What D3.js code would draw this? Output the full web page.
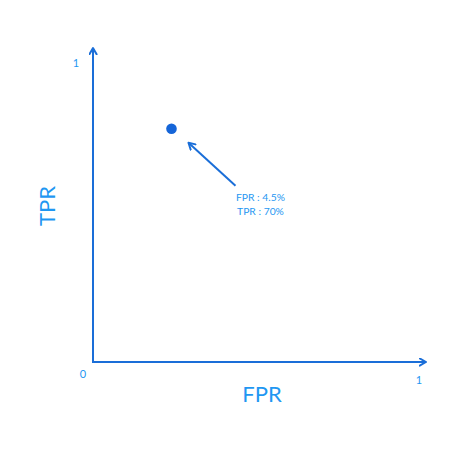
<!DOCTYPE html>
<html><head><meta charset="utf-8">
<script src="https://cdn.jsdelivr.net/npm/d3@7"></script>
<style>body{margin:0;background:#fff;}</style>
</head><body>
<svg id="c" width="462" height="460"></svg>
<script>
const axisTitles = ["FPR", "TPR"];
const tickLabels = ["0", "1"];
const pointFPR = [0.24];   // schematic position of the point on the x axis
const pointTPR = [0.78];   // schematic position of the point on the y axis
const annotationLines = ["FPR : 4.5%", "TPR : 70%"];

const svg = d3.select("#c");
const x = d3.scaleLinear().domain([0, 1]).range([93, 420]);
const y = d3.scaleLinear().domain([0, 1]).range([362, 63]);
const lineColor = "#1a6ed8", textColor = "#1f97f2";

const defs = svg.append("defs");
defs.append("marker").attr("id", "ah").attr("viewBox", "0 0 10 10")
  .attr("refX", 8).attr("refY", 5).attr("markerWidth", 4.5).attr("markerHeight", 4.5)
  .attr("orient", "auto-start-reverse")
  .append("path").attr("d", "M1,1 L8,5 L1,9").attr("fill", "none")
  .attr("stroke", lineColor).attr("stroke-width", 2.2).attr("stroke-linecap", "round").attr("stroke-linejoin", "round");

// axes
svg.append("line").attr("x1", x(0)).attr("y1", y(0)).attr("x2", x(0)).attr("y2", y(1) - 15)
  .attr("stroke", lineColor).attr("stroke-width", 2).attr("marker-end", "url(#ah)");
svg.append("line").attr("x1", x(0) - 1).attr("y1", y(0)).attr("x2", x(1) + 6).attr("y2", y(0))
  .attr("stroke", lineColor).attr("stroke-width", 2).attr("marker-end", "url(#ah)");

const font = "Lato, 'Noto Sans', sans-serif";
// tick labels
svg.append("text").attr("x", x(0) - 10).attr("y", y(0) + 16).text(tickLabels[0])
  .attr("font-family", font).attr("font-size", 11).attr("fill", textColor).attr("text-anchor", "middle");
svg.append("text").attr("x", x(0) - 17).attr("y", y(1) + 4).text(tickLabels[1])
  .attr("font-family", font).attr("font-size", 11).attr("fill", textColor).attr("text-anchor", "middle");
svg.append("text").attr("x", x(1) - 1).attr("y", y(0) + 22).text(tickLabels[1])
  .attr("font-family", font).attr("font-size", 11).attr("fill", textColor).attr("text-anchor", "middle");

// axis titles
svg.append("text").attr("x", 262).attr("y", 402).text(axisTitles[0])
  .attr("font-family", font).attr("font-size", 22).attr("fill", textColor).attr("text-anchor", "middle");
svg.append("text").attr("transform", `translate(${55},${206}) rotate(-90)`).text(axisTitles[1])
  .attr("font-family", font).attr("font-size", 22).attr("fill", textColor).attr("text-anchor", "middle");

// point
svg.selectAll("circle.pt").data(pointFPR).join("circle").attr("class", "pt")
  .attr("cx", d => x(d)).attr("cy", (d, i) => y(pointTPR[i])).attr("r", 5.3).attr("fill", "#1565d8");

// annotation arrow
const px = x(pointFPR[0]), py = y(pointTPR[0]);
svg.append("line").attr("x1", px + 64).attr("y1", py + 57).attr("x2", px + 17).attr("y2", py + 14)
  .attr("stroke", lineColor).attr("stroke-width", 2).attr("marker-end", "url(#ah)");

svg.selectAll("text.ann").data(annotationLines).join("text").attr("class", "ann")
  .attr("x", px + 89).attr("y", (d, i) => py + 72 + i * 14).text(d => d)
  .attr("font-family", font).attr("font-size", 10.3).attr("fill", textColor).attr("text-anchor", "middle");
</script>
</body></html>
